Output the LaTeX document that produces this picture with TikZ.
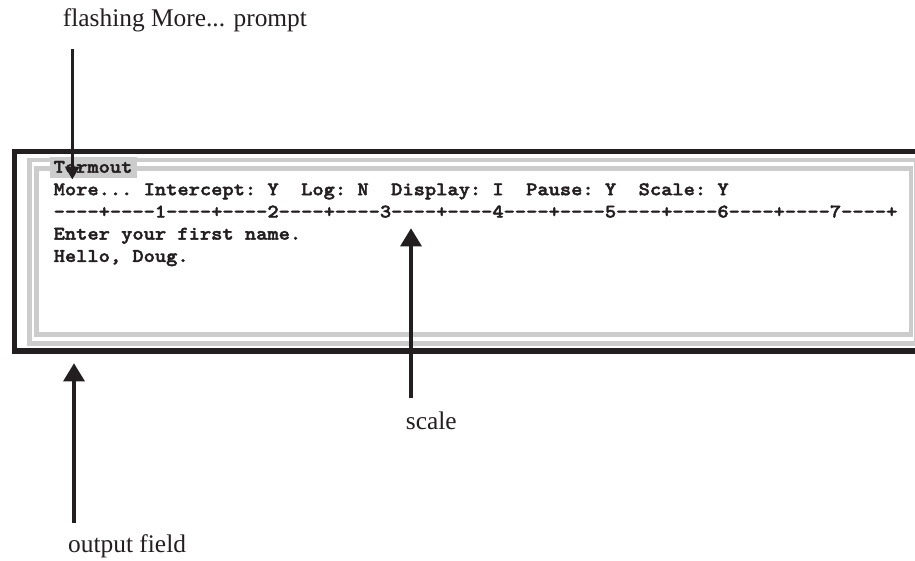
\documentclass[tikz,border=0pt]{standalone}
\usepackage{fontspec}
\setmainfont{Liberation Serif}
\newfontfamily\termfont{lmmonolt10-bold.otf}[FakeStretch=1.116,FakeBold=2.2]
\usetikzlibrary{arrows.meta}

\definecolor{ink}{RGB}{35,31,32}
\definecolor{panel}{RGB}{204,204,204}

% one blank character cell of the terminal font
\newcommand\blank{\phantom{x}}
% a single dash, kept apart from its neighbours
\newcommand\dsh{-\kern0pt }
% ten columns of the ruler: ----+----n
\newcommand\seg[1]{\dsh\dsh\dsh\dsh+\dsh\dsh\dsh\dsh#1}

\tikzset{
  term/.style={anchor=base west, inner sep=0pt, text=ink,
    font=\termfont\fontsize{19.2}{22.3}\selectfont},
  caption/.style={anchor=base west, inner sep=0pt, text=ink,
    font=\fontsize{25.4}{30}\selectfont},
  pointer/.style={draw=ink, line width=3.2pt,
    -{Triangle[length=18pt,width=21pt]}},
  smallpointer/.style={draw=ink, line width=3.2pt,
    -{Triangle[length=13pt,width=14pt]}},
}

\begin{document}
\begin{tikzpicture}[x=1pt,y=-1pt]
  \clip (0,0) rectangle (915,560);
  \fill[white] (0,0) rectangle (915,560);

  % window frame: black border and two grey rings
  \draw[ink, line width=5.4pt] (14.5,151.5) rectangle (940,350.8);
  \draw[panel, line width=4.5pt] (29.5,160) rectangle (916.7,343.3);
  \draw[panel, line width=4.7pt] (36.2,168.6) rectangle (911,334.2);

  % title tab
  \node[fill=panel, inner sep=0pt, minimum width=86.7pt, minimum height=21.3pt]
    (tab) at (93.35,167.65) {};
  \node[term] (title) at (53.5,172.7) {Termout};

  % terminal lines
  \node[term] (status) at (53.5,195.2)
    {More...\blank Intercept:\blank Y\blank\blank Log:\blank N\blank\blank Display:\blank I\blank\blank Pause:\blank Y\blank\blank Scale:\blank Y};
  \node[term] (ruler) at (53.5,217.5)
    {\seg1\seg2\seg3\seg4\seg5\seg6\seg7\dsh\dsh\dsh\dsh+};
  \node[term] (line1) at (53.5,239.6) {Enter\blank your\blank first\blank name.};
  \node[term] (line2) at (53.5,261.9) {Hello,\blank Doug.};

  % captions
  \node[caption] (flash) at (62.7,26.7) {flashing More... prompt};
  \node[caption] (scalecap) at (405.7,429.3) {scale};
  \node[caption] (outcap) at (68,552) {output field};

  % arrow ends
  \coordinate (flashfoot) at (72.3,49);
  \coordinate (flashtip) at (72.3,179.5);
  \coordinate (scalefoot) at (411,398.3);
  \coordinate (scaletip) at (411,228.3);
  \coordinate (outfoot) at (74,522.7);
  \coordinate (outtip) at (74,363.3);

  \draw[smallpointer] (flashfoot) -- (flashtip);
  \draw[pointer] (scalefoot) -- (scaletip);
  \draw[pointer] (outfoot) -- (outtip);
\end{tikzpicture}
\end{document}
